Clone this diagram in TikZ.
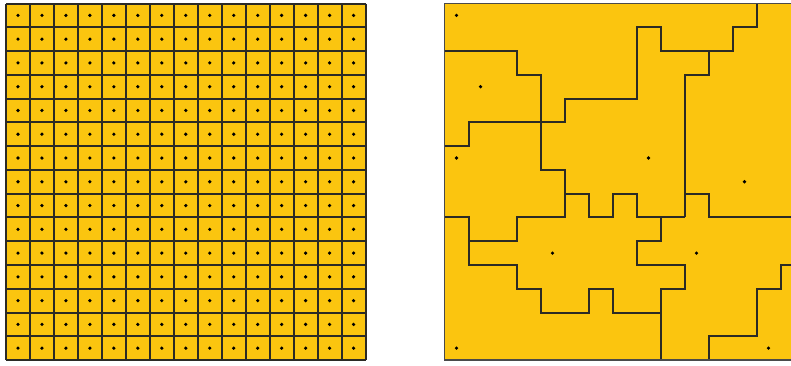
\documentclass[tikz,border=0pt]{standalone}
\definecolor{cellfill}{HTML}{FBC50F}
\definecolor{edgeline}{HTML}{2B2A25}
\definecolor{framegrey}{HTML}{4A4A4A}
\tikzset{
  gridline/.style={draw=edgeline, line width=2pt},
  regionline/.style={draw=edgeline, line width=2pt, line join=miter},
  seeddot/.style={fill=black, draw=none},
}
\begin{document}
\begin{tikzpicture}[x=1pt,y=-1pt]
\useasboundingbox (0,0) rectangle (791,365);
\clip (0,0) rectangle (791,365);
% ---------- left panel: regular grid ----------
\begin{scope}[shift={(6,3.5)}, x=23.97pt, y=-23.77pt]
  \fill[cellfill] (0,0) rectangle (15,15);
  \foreach \k in {0,...,15} {
    \draw[gridline] (\k,0) -- (\k,15);
    \draw[gridline] (0,\k) -- (15,\k);
  }
  \foreach \i in {0,...,14} {
    \foreach \j in {0,...,14} {
      \fill[seeddot] (\i+0.5,\j+0.5) circle (1.8pt);
    }
  }
\end{scope}
% ---------- right panel: irregular regions ----------
\begin{scope}[shift={(444.5,3.5)}, x=24pt, y=-23.77pt]
  \fill[cellfill] (0,0) rectangle (15,15);
  \draw[regionline] (0,2) -- (3,2) -- (3,3) -- (4,3) -- (4,7) -- (5,7) -- (5,9) -- (3,9) -- (3,10) -- (1,10);
  \draw[regionline] (0,6) -- (1,6) -- (1,5) -- (5,5) -- (5,4) -- (8,4) -- (8,1) -- (9,1) -- (9,2) -- (12,2) -- (12,1) -- (13,1) -- (13,0);
  \draw[regionline] (11,2) -- (11,3) -- (10,3) -- (10,9);
  \draw[regionline] (0,9) -- (1,9) -- (1,11) -- (3,11) -- (3,12) -- (4,12) -- (4,13) -- (6,13) -- (6,12) -- (7,12) -- (7,13) -- (9,13);
  \draw[regionline] (5,8) -- (6,8) -- (6,9) -- (7,9) -- (7,8) -- (8,8) -- (8,9) -- (10,9);
  \draw[regionline] (10,8) -- (11,8) -- (11,9) -- (15,9);
  \draw[regionline] (9,9) -- (9,10) -- (8,10) -- (8,11) -- (10,11) -- (10,12) -- (9,12) -- (9,15);
  \draw[regionline] (15,11) -- (14,11) -- (14,12) -- (13,12) -- (13,14) -- (11,14) -- (11,15);
  % frame (open on the right, where the picture is cut)
  \draw[draw=framegrey, line width=1.6pt] (15,0) -- (0,0) -- (0,15) -- (15,15);
  \foreach \p in {(0.5,0.5),(1.5,3.5),(0.5,6.5),(8.5,6.5),(12.5,7.5),(4.5,10.5),(10.5,10.5),(0.5,14.5),(13.5,14.5)} {
    \fill[seeddot] \p circle (1.8pt);
  }
\end{scope}
\end{tikzpicture}
\end{document}
